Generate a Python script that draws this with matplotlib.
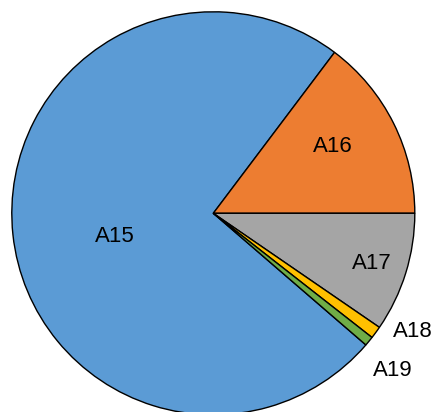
import matplotlib
matplotlib.use("Agg")
import matplotlib.pyplot as plt

categories = ["A15", "A16", "A17", "A18", "A19"]
values = [73.95, 14.72, 9.58, 0.99, 0.76]
colors = ["#5B9BD5", "#ED7D31", "#A5A5A5", "#FFC000", "#70AD47"]
# label baseline positions (in pie radius units)
label_pos = [(-0.491, -0.144), (0.593, 0.303), (0.788, -0.276), (0.990, -0.612), (0.890, -0.807)]

W, H = 435, 412
fig = plt.figure(figsize=(W / 100, H / 100), dpi=100)
cx, cy, r = 213.3, 213.3, 201.5
ax = fig.add_axes([(cx - r) / W, (H - cy - r) / H, 2 * r / W, 2 * r / H])

total = sum(values)
start = 53.0 + values[0] / total * 360
wedges, _ = ax.pie(values, colors=colors, startangle=start, counterclock=False,
                   radius=1, wedgeprops=dict(edgecolor="black", linewidth=1.0))
ax.set_xlim(-1, 1)
ax.set_ylim(-1, 1)
ax.set_aspect("auto")
ax.axis("off")

for lab, (x, y) in zip(categories, label_pos):
    ax.text(x, y, lab, ha="center", va="baseline", fontsize=16,
            family="Liberation Sans", color="black")

fig.savefig("out.png", dpi=100)
